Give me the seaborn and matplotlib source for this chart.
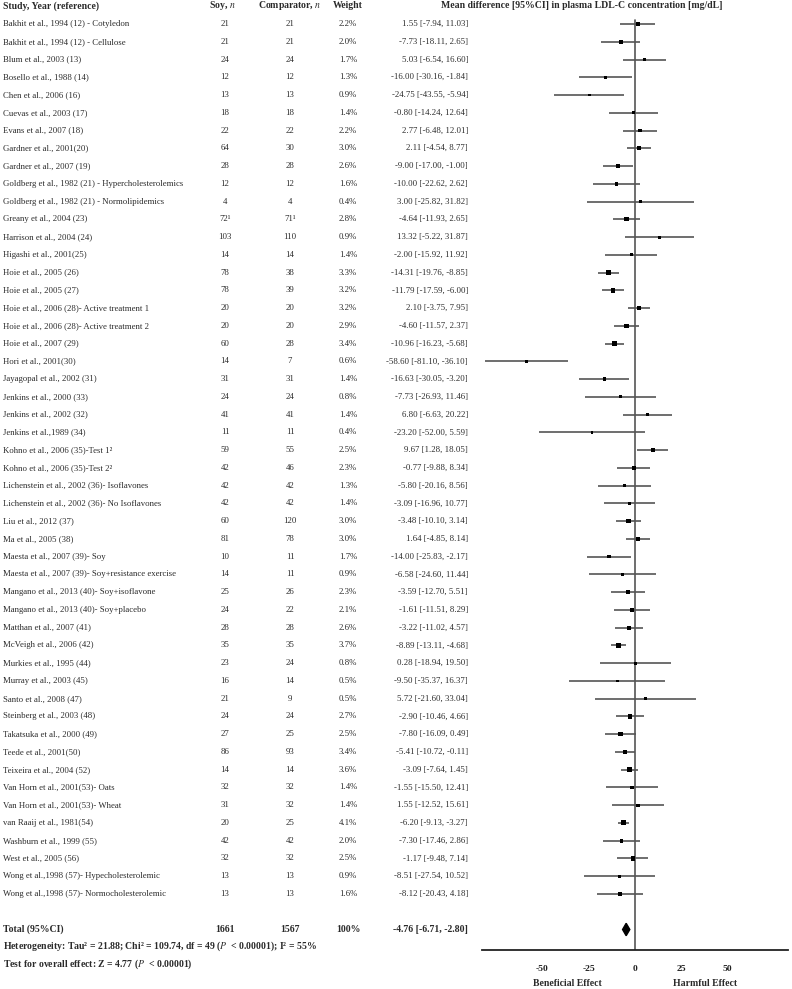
import numpy as np
import pandas as pd
import seaborn as sns
import matplotlib.pyplot as plt
import matplotlib.transforms as mtransforms

studies = [
    "Bakhit et al., 1994 (12) - Cotyledon",
    "Bakhit et al., 1994 (12) - Cellulose",
    "Blum et al., 2003 (13)",
    "Bosello et al., 1988 (14)",
    "Chen et al., 2006 (16)",
    "Cuevas et al., 2003 (17)",
    "Evans et al., 2007 (18)",
    "Gardner et al., 2001(20)",
    "Gardner et al., 2007 (19)",
    "Goldberg et al., 1982 (21) - Hypercholesterolemics",
    "Goldberg et al., 1982 (21) - Normolipidemics",
    "Greany et al., 2004 (23)",
    "Harrison et al., 2004 (24)",
    "Higashi et al., 2001(25)",
    "Hoie et al., 2005 (26)",
    "Hoie et al., 2005 (27)",
    "Hoie et al., 2006 (28)- Active treatment 1",
    "Hoie et al., 2006 (28)- Active treatment 2",
    "Hoie et al., 2007 (29)",
    "Hori et al., 2001(30)",
    "Jayagopal et al., 2002 (31)",
    "Jenkins et al., 2000 (33)",
    "Jenkins et al., 2002 (32)",
    "Jenkins et al.,1989 (34)",
    "Kohno et al., 2006 (35)-Test 1\u00b2",
    "Kohno et al., 2006 (35)-Test 2\u00b2",
    "Lichenstein et al., 2002 (36)- Isoflavones",
    "Lichenstein et al., 2002 (36)- No Isoflavones",
    "Liu et al., 2012 (37)",
    "Ma et al., 2005 (38)",
    "Maesta et al., 2007 (39)- Soy",
    "Maesta et al., 2007 (39)- Soy+resistance exercise",
    "Mangano et al., 2013 (40)- Soy+isoflavone",
    "Mangano et al., 2013 (40)- Soy+placebo",
    "Matthan et al., 2007 (41)",
    "McVeigh et al., 2006 (42)",
    "Murkies et al., 1995 (44)",
    "Murray et al., 2003 (45)",
    "Santo et al., 2008 (47)",
    "Steinberg et al., 2003 (48)",
    "Takatsuka et al., 2000 (49)",
    "Teede et al., 2001(50)",
    "Teixeira et al., 2004 (52)",
    "Van Horn et al., 2001(53)- Oats",
    "Van Horn et al., 2001(53)- Wheat",
    "van Raaij et al., 1981(54)",
    "Washburn et al., 1999 (55)",
    "West et al., 2005 (56)",
    "Wong et al.,1998 (57)- Hypecholesterolemic",
    "Wong et al.,1998 (57)- Normocholesterolemic",
]
soy_n = ["21", "21", "24", "12", "13", "18", "22", "64", "28", "12", "4", "72\u00b9", "103",
         "14", "78", "78", "20", "20", "60", "14", "31", "24", "41", "11", "59", "42", "42",
         "42", "60", "81", "10", "14", "25", "24", "28", "35", "23", "16", "21", "24", "27",
         "86", "14", "32", "31", "20", "42", "32", "13", "13"]
comp_n = ["21", "21", "24", "12", "13", "18", "22", "30", "28", "12", "4", "71\u00b9", "110",
          "14", "38", "39", "20", "20", "28", "7", "31", "24", "41", "11", "55", "46", "42",
          "42", "120", "78", "11", "11", "26", "22", "28", "35", "24", "14", "9", "24", "25",
          "93", "14", "32", "32", "25", "42", "32", "13", "13"]
weight = [2.2, 2.0, 1.7, 1.3, 0.9, 1.4, 2.2, 3.0, 2.6, 1.6, 0.4, 2.8, 0.9, 1.4, 3.3, 3.2,
          3.2, 2.9, 3.4, 0.6, 1.4, 0.8, 1.4, 0.4, 2.5, 2.3, 1.3, 1.4, 3.0, 3.0, 1.7, 0.9,
          2.3, 2.1, 2.6, 3.7, 0.8, 0.5, 0.5, 2.7, 2.5, 3.4, 3.6, 1.4, 1.4, 4.1, 2.0, 2.5,
          0.9, 1.6]
md = [1.55, -7.73, 5.03, -16.00, -24.75, -0.80, 2.77, 2.11, -9.00, -10.00, 3.00, -4.64,
      13.32, -2.00, -14.31, -11.79, 2.10, -4.60, -10.96, -58.60, -16.63, -7.73, 6.80,
      -23.20, 9.67, -0.77, -5.80, -3.09, -3.48, 1.64, -14.00, -6.58, -3.59, -1.61, -3.22,
      -8.89, 0.28, -9.50, 5.72, -2.90, -7.80, -5.41, -3.09, -1.55, 1.55, -6.20, -7.30,
      -1.17, -8.51, -8.12]
ci_lo = [-7.94, -18.11, -6.54, -30.16, -43.55, -14.24, -6.48, -4.54, -17.00, -22.62,
         -25.82, -11.93, -5.22, -15.92, -19.76, -17.59, -3.75, -11.57, -16.23, -81.10,
         -30.05, -26.93, -6.63, -52.00, 1.28, -9.88, -20.16, -16.96, -10.10, -4.85, -25.83,
         -24.60, -12.70, -11.51, -11.02, -13.11, -18.94, -35.37, -21.60, -10.46, -16.09,
         -10.72, -7.64, -15.50, -12.52, -9.13, -17.46, -9.48, -27.54, -20.43]
ci_hi = [11.03, 2.65, 16.60, -1.84, -5.94, 12.64, 12.01, 8.77, -1.00, 2.62, 31.82, 2.65,
         31.87, 11.92, -8.85, -6.00, 7.95, 2.37, -5.68, -36.10, -3.20, 11.46, 20.22, 5.59,
         18.05, 8.34, 8.56, 10.77, 3.14, 8.14, -2.17, 11.44, 5.51, 8.29, 4.57, -4.68, 19.50,
         16.37, 33.04, 4.66, 0.49, -0.11, 1.45, 12.41, 15.61, -3.27, 2.86, 7.14, 10.52, 4.18]

total_soy, total_comp, total_w = 1661, 1567, "100%"
total_md, total_lo, total_hi = -4.76, -6.71, -2.80
ticks = [-50, -25, 0, 25, 50]

df = pd.DataFrame({"study": studies, "soy": soy_n, "comp": comp_n, "weight": weight,
                   "md": md, "lo": ci_lo, "hi": ci_hi})
df["row"] = np.arange(len(df))

sns.set_style("white")
plt.rcParams["font.family"] = ["Liberation Serif", "DejaVu Serif"]
plt.rcParams["mathtext.fontset"] = "stix"

W, H = 792, 989
fig = plt.figure(figsize=(W / 100, H / 100), dpi=100)
# forest panel sits at x 482..788 px, y 0..950 px
ax = fig.add_axes([482 / W, (H - 950) / H, (788 - 482) / W, 950 / H])
ax.set_xlim(-82.5, 82.5)
row0, step = 24, 17.755
ax.set_ylim((950 - row0) / step, -row0 / step)

ax.hlines(df["row"], df["lo"], df["hi"], color="#555555", lw=1.2)
sns.scatterplot(data=df, x="md", y="row", size="weight", sizes=(3, 13), marker="s",
                color="black", linewidth=0, legend=False, ax=ax, zorder=3)
ax.axvline(0, ymin=0, ymax=1 - 20 / 950, color="#555555", lw=1.2)

trow = len(df) + 1
ax.fill([total_lo, total_md, total_hi, total_md], [trow, trow - 0.35, trow, trow + 0.35],
        color="black", zorder=4)

for s in ["top", "left", "right"]:
    ax.spines[s].set_visible(False)
ax.spines["bottom"].set_color("#222222")
ax.spines["bottom"].set_linewidth(1.3)
ax.set_yticks([])
ax.set_xticks(ticks)
ax.set_xticklabels([str(t) for t in ticks], fontsize=6.8, fontweight="bold", color="#222222")
ax.tick_params(axis="x", direction="inout", length=9, width=1.3, color="#222222", pad=6)
ax.set_xlabel("")
ax.set_ylabel("")

bt = mtransforms.blended_transform_factory(fig.transFigure, ax.transData)

def fx(px):
    return px / W

fs = 6.3
fsb = 7.0
col = "#2a2a2a"
hdr_y = -row0 / step + 6 / step
hd = dict(transform=bt, fontsize=fsb, fontweight="bold", va="center", color=col)
ax.text(fx(3), hdr_y, "Study, Year (reference)", ha="left", **hd)
ax.text(fx(222), hdr_y, "Soy, $n$", ha="center", **hd)
ax.text(fx(290), hdr_y, "Comparator, $n$", ha="center", **hd)
ax.text(fx(348), hdr_y, "Weight", ha="center", **hd)
ax.text(fx(582), hdr_y, "Mean difference [95%CI] in plasma LDL-C concentration [mg/dL]",
        ha="center", **hd)

for r in df.itertuples():
    tk = dict(transform=bt, fontsize=fs, va="center", color=col)
    ax.text(fx(3), r.row, r.study, ha="left", **tk)
    ax.text(fx(225), r.row, r.soy, ha="center", **tk)
    ax.text(fx(290), r.row, r.comp, ha="center", **tk)
    ax.text(fx(348), r.row, f"{r.weight:.1f}%", ha="center", **tk)
    ax.text(fx(468), r.row, f"{r.md:.2f} [{r.lo:.2f}, {r.hi:.2f}]", ha="right", **tk)

bk = dict(transform=bt, fontsize=fsb, fontweight="bold", va="center", color=col)
ax.text(fx(3), trow, "Total (95%CI)", ha="left", **bk)
ax.text(fx(225), trow, str(total_soy), ha="center", **bk)
ax.text(fx(290), trow, str(total_comp), ha="center", **bk)
ax.text(fx(348), trow, total_w, ha="center", **bk)
ax.text(fx(468), trow, f"{total_md:.2f} [{total_lo:.2f}, {total_hi:.2f}]", ha="right", **bk)
ax.text(fx(3), trow + 17 / step,
        "Heterogeneity: Tau\u00b2 = 21.88; Chi\u00b2 = 109.74, df = 49 ($P$  < 0.00001); I\u00b2 = 55%",
        ha="left", **bk)
ax.text(fx(3), trow + 35 / step, "Test for overall effect: Z = 4.77 ($P$  < 0.00001)",
        ha="left", **bk)

ax.text(fx(567), trow + 54 / step, "Beneficial Effect", ha="center", **bk)
ax.text(fx(705), trow + 54 / step, "Harmful Effect", ha="center", **bk)

fig.savefig("out.png", dpi=100)
